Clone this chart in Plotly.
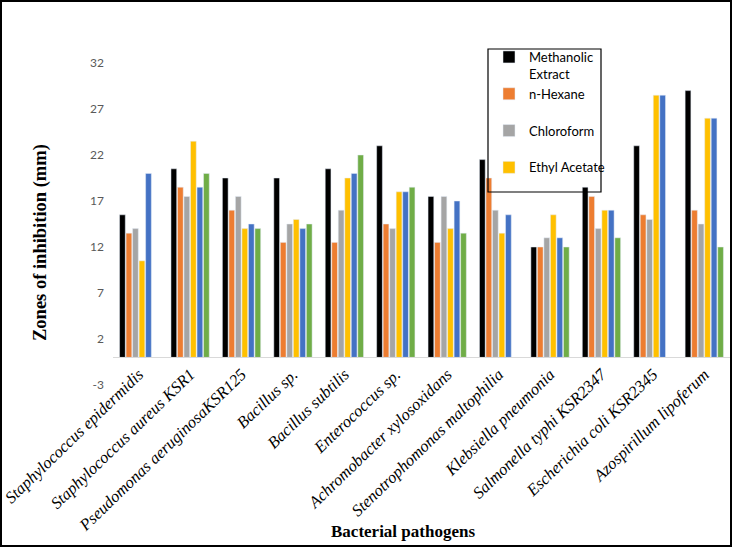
import plotly.graph_objects as go

categories = ["Staphylococcus epidermidis", "Staphylococcus aureus KSR1", "Pseudomonas aeruginosaKSR125",
              "Bacillus sp.", "Bacillus subtilis", "Enterococcus sp.", "Achromobacter xylosoxidans",
              "Stenotrophomonas maltophilia", "Klebsiella pneumonia", "Salmonella typhi KSR2347",
              "Escherichia coli KSR2345", "Azospirillum lipoferum"]

methanolic = [15.5, 20.5, 19.5, 19.5, 20.5, 23, 17.5, 21.5, 12, 18.5, 23, 29]
n_hexane = [13.5, 18.5, 16, 12.5, 12.5, 14.5, 12.5, 19.5, 12, 17.5, 15.5, 16]
chloroform = [14, 17.5, 17.5, 14.5, 16, 14, 17.5, 16, 13, 14, 15, 14.5]
ethyl_acetate = [10.5, 23.5, 14, 15, 19.5, 18, 14, 13.5, 15.5, 16, 28.5, 26]
acetone = [20, 18.5, 14.5, 14, 20, 18, 17, 15.5, 13, 16, 28.5, 26]
aqueous = [None, 20, 14, 14.5, 22, 18.5, 13.5, None, 12, 13, None, 12]

series = [
    ("Methanolic<br>Extract", methanolic, "#000000", True),
    ("n-Hexane<br> ", n_hexane, "#ED7D31", True),
    ("Chloroform<br> ", chloroform, "#A5A5A5", True),
    ("Ethyl Acetate", ethyl_acetate, "#FFC000", True),
    ("Acetone", acetone, "#4472C4", False),
    ("Aqueous Extract", aqueous, "#70AD47", False),
]

y_ticks = [-3, 2, 7, 12, 17, 22, 27, 32]

fig = go.Figure()
for i, (name, vals, color, show) in enumerate(series):
    fig.add_trace(go.Bar(x=categories, y=vals, name=name, marker_color=color,
                         showlegend=show))

L, R, T, B = 113, 2, 63, 163
W, H = 732, 548
pw, ph = W - L - R, H - T - B


def px(x):
    return (x - L) / pw


def py(y):
    return (H - B - y) / ph


fig.update_layout(
    width=W, height=H,
    margin=dict(l=L, r=R, t=T, b=B, autoexpand=False),
    paper_bgcolor="white", plot_bgcolor="white",
    barmode="group", bargap=0.24, bargroupgap=0.12,
    legend=dict(x=px(489), y=py(42), xanchor="left", yanchor="top",
                borderwidth=0, bgcolor="rgba(0,0,0,0)",
                font=dict(family="Lato", size=13, color="black"),
                tracegroupgap=0, valign="top", itemwidth=30),
    xaxis=dict(anchor="free", position=3 / 35, showline=True, linecolor="#D9D9D9", linewidth=1,
               showgrid=False, ticks="", tickangle=-44, automargin=False,
               tickfont=dict(family="Liberation Serif", size=16.5, style="italic", color="black")),
    yaxis=dict(range=[-3, 32], tickvals=y_ticks, ticktext=[str(v) for v in y_ticks],
               showgrid=False, zeroline=False, showline=False, ticks="", ticklabelstandoff=8,
               automargin=False,
               tickfont=dict(family="Lato", size=12, color="#595959")),
    annotations=[
        dict(text="<b>Zones of inhibition (mm)</b>", xref="paper", yref="paper",
             x=px(41), y=py(243), xanchor="center", yanchor="middle",
             textangle=-90, showarrow=False,
             font=dict(family="Liberation Serif", size=18.5, color="black")),
        dict(text="<b>Bacterial pathogens</b>", xref="paper", yref="paper",
             x=px(403), y=py(531), xanchor="center", yanchor="middle", showarrow=False,
             font=dict(family="Liberation Serif", size=17, color="black")),
    ],
    shapes=[
        dict(type="rect", xref="paper", yref="paper", layer="above",
             x0=px(488), x1=px(601), y0=py(192), y1=py(49),
             fillcolor="rgba(0,0,0,0)", line=dict(color="black", width=1.2)),
        dict(type="rect", xref="paper", yref="paper", layer="above",
             x0=px(1), x1=px(W - 1), y0=py(H - 2), y1=py(1),
             fillcolor="rgba(0,0,0,0)", line=dict(color="black", width=2)),
    ],
)

fig.write_html("out.html", config={"displayModeBar": False},
               post_script="document.body.style.margin='0';document.body.style.padding='0';"
                           "document.documentElement.style.overflow='hidden';")
